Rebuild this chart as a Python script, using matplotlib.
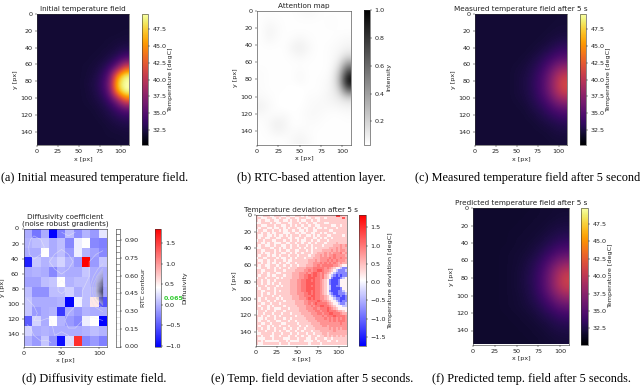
import numpy as np
import matplotlib
matplotlib.use('Agg')
import matplotlib.pyplot as plt

W, H = 640, 386

# coarse readings, rows top to bottom, columns left to right
initial_temp = [
    [32.0, 32.0, 32.0, 32.0, 32.0, 32.0, 32.0, 32.0, 32.0, 32.0, 32.0, 32.0],
    [32.0, 32.0, 32.0, 32.0, 32.0, 32.0, 32.0, 32.0, 32.0, 32.0, 32.0, 32.0],
    [32.0, 32.0, 32.0, 32.0, 32.0, 32.0, 32.0, 32.0, 32.0, 32.0, 32.0, 32.1],
    [32.0, 32.0, 32.0, 32.0, 32.0, 32.0, 32.0, 32.0, 32.0, 32.1, 32.2, 32.3],
    [32.0, 32.0, 32.0, 32.0, 32.0, 32.0, 32.0, 32.0, 32.1, 32.2, 32.5, 33.0],
    [32.0, 32.0, 32.0, 32.0, 32.0, 32.0, 32.0, 32.1, 32.2, 32.7, 33.5, 35.2],
    [32.0, 32.0, 32.0, 32.0, 32.0, 32.0, 32.1, 32.2, 32.7, 33.8, 36.5, 42.0],
    [32.0, 32.0, 32.0, 32.0, 32.0, 32.0, 32.1, 32.4, 33.3, 35.6, 45.0, 49.5],
    [32.0, 32.0, 32.0, 32.0, 32.0, 32.0, 32.2, 32.6, 33.6, 36.8, 48.0, 50.0],
    [32.0, 32.0, 32.0, 32.0, 32.0, 32.0, 32.1, 32.5, 33.4, 36.0, 46.0, 50.0],
    [32.0, 32.0, 32.0, 32.0, 32.0, 32.0, 32.1, 32.3, 32.8, 34.2, 37.5, 43.0],
    [32.0, 32.0, 32.0, 32.0, 32.0, 32.0, 32.0, 32.1, 32.4, 33.0, 34.2, 35.8],
    [32.0, 32.0, 32.0, 32.0, 32.0, 32.0, 32.0, 32.0, 32.2, 32.5, 33.0, 33.5],
    [32.0, 32.0, 32.0, 32.0, 32.0, 32.0, 32.0, 32.0, 32.0, 32.2, 32.4, 32.6],
    [32.0, 32.0, 32.0, 32.0, 32.0, 32.0, 32.0, 32.0, 32.0, 32.1, 32.1, 32.2],
    [32.0, 32.0, 32.0, 32.0, 32.0, 32.0, 32.0, 32.0, 32.0, 32.0, 32.0, 32.1],
]

measured_temp = [
    [32.0, 32.0, 32.0, 32.0, 32.0, 32.0, 32.0, 32.0, 32.0, 32.0, 32.0, 32.1],
    [32.0, 32.0, 32.0, 32.0, 32.0, 32.0, 32.0, 32.0, 32.0, 32.0, 32.1, 32.1],
    [32.0, 32.0, 32.0, 32.0, 32.0, 32.0, 32.0, 32.0, 32.0, 32.1, 32.2, 32.3],
    [32.0, 32.0, 32.0, 32.0, 32.0, 32.0, 32.0, 32.0, 32.1, 32.3, 32.6, 32.9],
    [32.0, 32.0, 32.0, 32.0, 32.0, 32.0, 32.0, 32.1, 32.4, 32.8, 33.4, 33.9],
    [32.0, 32.0, 32.0, 32.0, 32.0, 32.0, 32.1, 32.4, 32.9, 33.7, 34.7, 35.4],
    [32.0, 32.0, 32.0, 32.0, 32.0, 32.1, 32.3, 32.7, 33.5, 34.8, 36.7, 38.0],
    [32.0, 32.0, 32.0, 32.0, 32.0, 32.2, 32.4, 33.0, 34.0, 35.8, 38.5, 40.4],
    [32.0, 32.0, 32.0, 32.0, 32.0, 32.2, 32.5, 33.1, 34.2, 36.1, 39.2, 41.5],
    [32.0, 32.0, 32.0, 32.0, 32.0, 32.2, 32.4, 33.0, 34.1, 35.9, 38.7, 40.8],
    [32.0, 32.0, 32.0, 32.0, 32.0, 32.1, 32.3, 32.8, 33.6, 34.9, 36.9, 38.3],
    [32.0, 32.0, 32.0, 32.0, 32.0, 32.0, 32.1, 32.5, 33.0, 33.8, 34.9, 35.6],
    [32.0, 32.0, 32.0, 32.0, 32.0, 32.0, 32.0, 32.2, 32.5, 33.0, 33.5, 34.0],
    [32.0, 32.0, 32.0, 32.0, 32.0, 32.0, 32.0, 32.0, 32.2, 32.4, 32.7, 32.9],
    [32.0, 32.0, 32.0, 32.0, 32.0, 32.0, 32.0, 32.0, 32.0, 32.1, 32.3, 32.4],
    [32.0, 32.0, 32.0, 32.0, 32.0, 32.0, 32.0, 32.0, 32.0, 32.0, 32.1, 32.1],
]

predicted_temp = [
    [31.8, 31.8, 31.8, 31.8, 31.8, 31.8, 31.8, 31.8, 31.9, 31.9, 32.0, 32.0],
    [31.8, 31.8, 31.8, 31.8, 31.8, 31.8, 31.8, 31.9, 31.9, 32.0, 32.1, 32.2],
    [31.8, 31.8, 31.8, 31.8, 31.8, 31.8, 31.9, 31.9, 32.0, 32.2, 32.4, 32.5],
    [31.8, 31.8, 31.8, 31.8, 31.8, 31.9, 31.9, 32.0, 32.2, 32.5, 32.8, 33.1],
    [31.8, 31.8, 31.8, 31.8, 31.8, 31.9, 32.0, 32.2, 32.5, 33.0, 33.6, 34.0],
    [31.8, 31.8, 31.8, 31.8, 31.9, 32.0, 32.1, 32.4, 33.0, 33.8, 34.9, 35.5],
    [31.8, 31.8, 31.8, 31.8, 31.9, 32.0, 32.3, 32.8, 33.6, 35.0, 36.7, 37.8],
    [31.8, 31.8, 31.8, 31.8, 31.9, 32.1, 32.4, 33.0, 34.1, 36.0, 38.4, 40.0],
    [31.8, 31.8, 31.8, 31.8, 31.9, 32.1, 32.5, 33.1, 34.3, 36.3, 39.0, 41.0],
    [31.8, 31.8, 31.8, 31.8, 31.9, 32.1, 32.4, 33.0, 34.2, 36.1, 38.6, 40.3],
    [31.8, 31.8, 31.8, 31.8, 31.9, 32.0, 32.3, 32.8, 33.7, 35.1, 36.9, 38.1],
    [31.8, 31.8, 31.8, 31.8, 31.9, 32.0, 32.2, 32.5, 33.1, 34.0, 35.2, 35.9],
    [31.8, 31.8, 31.8, 31.8, 31.8, 31.9, 32.0, 32.2, 32.6, 33.1, 33.7, 34.2],
    [31.8, 31.8, 31.8, 31.8, 31.8, 31.8, 31.9, 32.0, 32.2, 32.5, 32.9, 33.1],
    [31.8, 31.8, 31.8, 31.8, 31.8, 31.8, 31.8, 31.9, 32.0, 32.2, 32.4, 32.5],
    [31.8, 31.8, 31.8, 31.8, 31.8, 31.8, 31.8, 31.8, 31.9, 32.0, 32.1, 32.2],
]

attention = [
    [.04, .04, .04, .04, .04, .05, .06, .05, .04, .04, .04, .04],
    [.04, .06, .05, .04, .04, .04, .04, .04, .04, .05, .04, .04],
    [.04, .08, .06, .04, .04, .04, .04, .04, .04, .04, .04, .04],
    [.04, .07, .05, .04, .05, .07, .05, .04, .04, .04, .05, .06],
    [.04, .04, .04, .04, .08, .10, .07, .04, .04, .05, .06, .08],
    [.04, .04, .04, .04, .05, .07, .05, .04, .04, .05, .08, .16],
    [.04, .04, .04, .04, .04, .04, .04, .04, .04, .05, .13, .45],
    [.05, .04, .04, .04, .04, .06, .04, .04, .04, .06, .22, .80],
    [.05, .04, .04, .04, .04, .06, .04, .04, .05, .07, .26, 1.0],
    [.05, .04, .04, .04, .03, .03, .04, .04, .05, .08, .18, .65],
    [.06, .05, .04, .03, .03, .03, .05, .05, .06, .08, .11, .18],
    [.09, .06, .04, .03, .03, .04, .05, .06, .06, .06, .07, .08],
    [.06, .05, .05, .06, .04, .04, .06, .06, .05, .04, .04, .05],
    [.04, .06, .10, .08, .04, .04, .05, .05, .04, .04, .04, .04],
    [.04, .05, .08, .07, .05, .06, .05, .04, .04, .04, .04, .04],
    [.04, .04, .04, .04, .06, .08, .06, .04, .04, .04, .04, .04],
]

diffusivity = [
    [-0.05, -0.35, -0.05, -1.00, -0.30, 0.05, -0.20, 0.00, -0.15, 0.28],
    [0.00, 0.05, 0.10, -0.05, 0.05, -0.25, 0.32, 0.42, -0.25, -0.30],
    [-0.05, -0.05, 0.42, -0.05, 0.05, -0.15, 0.32, 0.00, -0.10, -0.25],
    [-0.85, 0.10, 0.00, 0.05, 0.18, 0.00, -0.15, 1.85, -0.15, 0.10],
    [-0.05, 0.00, -0.05, -0.25, 0.00, -0.05, -0.05, 0.10, -0.05, -0.05],
    [-0.10, -0.10, 0.05, 0.10, 0.42, 0.00, 0.05, 0.05, -0.05, -0.05],
    [0.05, -0.20, -0.20, 0.05, 0.05, 0.15, -0.05, 0.05, 0.00, -0.10],
    [0.10, -0.05, -0.05, -0.05, 0.00, -1.00, 0.35, 0.05, 0.55, -0.55],
    [0.10, -0.15, -0.05, 0.00, -0.70, -0.05, -0.15, 0.00, -0.05, -0.05],
    [-0.50, 0.18, -0.05, 0.42, 0.00, -0.15, -0.25, 0.32, 0.42, -1.00],
    [0.18, -0.05, 0.00, -0.05, -0.05, -0.05, -0.05, 0.00, 0.05, 0.00],
    [0.00, -0.15, 0.10, -0.20, -0.95, 0.22, 1.60, -0.25, -0.15, -0.30],
]

# deviation map read cell by cell: digit = 0.2 degC steps, a/b/c are the blue core
deviation_rows = [
    "2112221122 2112211222 1212222222 2222277322",
    "2211122112 1221122112 2211221122 1222222262",
    "2122112211 2211212212 1122122122 2222222222",
    "1122221221 1222112221 2212211222 1122222222",
    "2211122212 2112212122 1221221122 2221122122",
    "2122211211 2212122211 2112212112 1222212222",
    "1221122122 1211221221 1212211222 2211222222",
    "2212212112 2211122112 1122112212 1222122222",
    "2112211212 1121212221 2211212122 2112222212",
    "2122112221 1222112112 2122211212 1221222222",
    "1221222112 2212212212 1122122122 2122222222",
    "2211212211 1221122122 1221221222 1222232222",
    "2122112212 2112212212 2212122221 2222333434",
    "1122221122 1212212221 2122121222 2233343433",
    "2211222212 1221122112 2212122223 3334343443",
    "2212112212 2112212122 1222122333 4343444534",
    "2122212112 1222122212 2221223343 4344544443",
    "1221122221 2112212122 2122233344 4454544544",
    "2112212212 2212112222 2223334344 4545454443",
    "2212212112 1221122122 2223344454 5454543433",
    "2122112221 2212212212 2233344545 5555443211",
    "1122212212 1222122233 3344455555 4543211abb",
    "2211222212 2212222333 3445455665 44321abbba",
    "2212212221 1222223334 4454566545 4321abbbbb",
    "2122212112 2212223334 4556566545 321abcbcbb",
    "1222122221 2122223334 4556665545 321bcccba1",
    "2212212212 2222233344 5566565543 21bcccb111",
    "2212212122 1222233344 5566665543 21bcccb111",
    "1222122221 2122233344 5566565543 21accbb111",
    "2122212212 2222233344 5566665543 21accccb11",
    "2211222212 1222233344 5566565543 21bcccbba1",
    "2212212212 2222233344 4556565543 21abccbbba",
    "2212222122 1222223334 4555665544 321abccbcb",
    "2122122221 2122223334 4456565544 3211abbccb",
    "2122212212 2212222333 3445555654 43211abcbb",
    "2211221222 1222222333 3445456555 543211abba",
    "2122212122 2212222233 3344545566 55432111aa",
    "2212212211 1222122223 3344455455 5654321111",
    "1222122212 2212222223 3334445545 5655543321",
    "1221222122 2122212222 3333444554 5566555433",
    "2212212212 1222222122 2333344445 4555655554",
    "2112122212 2212212222 2233334444 5454545454",
    "2122212221 1222122122 2223333444 4454545554",
    "2211221222 2112222212 2222333344 4444444544",
    "2122212122 1222122221 2212233334 4344444444",
    "2212212212 2212212212 2122223333 3343434344",
    "1222122212 1221122122 1222122233 3333433333",
    "1122222122 2122212212 2212212223 3233333333",
    "2212221122 1222122122 1221222122 3232323232",
    "2111222122 2211122212 2211221222 1221222222",
    "2212111111 2221211112 2111122122 2112212222",
    "2112222222 1222122222 2221222212 2222222222",
]
deviation_codes = {'a': -0.35, 'b': -0.8, 'c': -1.2, '1': 0.12}

temp_ticks = [32.5, 35.0, 37.5, 40.0, 42.5, 45.0, 47.5]
attention_ticks = [0.2, 0.4, 0.6, 0.8, 1.0]
deviation_ticks = [-1.5, -1.0, -0.5, 0.0, 0.5, 1.0, 1.5]
rtc_ticks = [0.00, 0.15, 0.30, 0.45, 0.60, 0.75, 0.90]
diff_ticks = [-1.0, -0.5, 0.0, 0.5, 1.0, 1.5]

TICK = 4.6
TITLE = 5.2

plt.rcParams.update({
    'font.size': TICK,
    'axes.linewidth': 0.4,
    'axes.edgecolor': '#333333',
    'xtick.major.size': 1.6,
    'ytick.major.size': 1.6,
    'xtick.major.width': 0.35,
    'ytick.major.width': 0.35,
    'xtick.major.pad': 1.6,
    'ytick.major.pad': 1.6,
    'xtick.labelsize': TICK,
    'ytick.labelsize': TICK,
    'axes.labelsize': TICK,
    'axes.labelpad': 1.5,
    'xtick.color': '#222222',
    'ytick.color': '#222222',
    'text.color': '#222222',
    'axes.labelcolor': '#222222',
})

fig = plt.figure(figsize=(W / 100, H / 100), dpi=100)


def px_axes(x0, x1, y0, y1):
    return fig.add_axes([x0 / W, 1 - y1 / H, (x1 - x0) / W, (y1 - y0) / H])


def finish_axes(ax, title, xticks, yticks):
    ax.set_xticks(xticks)
    ax.set_yticks(yticks)
    ax.set_xlabel('x [px]')
    ax.set_ylabel('y [px]')
    ax.set_title(title, fontsize=TITLE, pad=2)


def add_bar(mappable, box, ticks, label, pad=1.5):
    cax = px_axes(*box)
    cb = fig.colorbar(mappable, cax=cax, ticks=ticks)
    cb.set_label(label, fontsize=TICK, labelpad=pad)
    cb.outline.set_linewidth(0.4)
    return cb


def field_panel(data, box, cbox, title, cmap, vmin, vmax, ticks, label,
                interp='bicubic', xticks=(0, 25, 50, 75, 100)):
    ax = px_axes(*box)
    im = ax.imshow(data, cmap=cmap, vmin=vmin, vmax=vmax, extent=[0, 110, 156, 0],
                   aspect='auto', interpolation=interp)
    finish_axes(ax, title, list(xticks), [0, 20, 40, 60, 80, 100, 120, 140])
    add_bar(im, cbox, ticks, label)
    return ax


field_panel(initial_temp, (37, 129, 14, 145), (141.5, 148, 14, 145),
            'Initial temperature field', 'inferno', 30.2, 49.8, temp_ticks,
            'Temperature [degC]')
field_panel(attention, (257, 351, 11, 144.5), (363.5, 370, 10, 144.5),
            'Attention map', 'gray_r', 0.034, 1.0, attention_ticks, 'Intensity')
field_panel(measured_temp, (475, 567, 14, 145), (579.5, 586, 14, 145),
            'Measured temperature field after 5 s', 'inferno', 30.2, 49.8, temp_ticks,
            'Temperature [degC]')

# panel d, blocks with the attention contours on top
ax_d = px_axes(23.5, 106.5, 228.5, 346.5)
im_d = ax_d.imshow(diffusivity, cmap='bwr', vmin=-1.02, vmax=1.86, extent=[0, 110, 157, 0],
                   aspect='auto', interpolation='nearest')
xc = (np.arange(12) + 0.5) * 110 / 12
yc = (np.arange(16) + 0.5) * 157 / 16
cs = ax_d.contour(xc, yc, np.array(attention), levels=np.arange(0.05, 1.0, 0.05),
                  cmap='gray_r', vmin=0, vmax=1, linewidths=0.5, alpha=0.5)
finish_axes(ax_d, 'Diffusivity coefficient\n(noise robust gradients)', [0, 50, 100],
            [0, 20, 40, 60, 80, 100, 120, 140])
ax_d.title.set_linespacing(1.15)

cax_rtc = px_axes(116, 120.5, 228.5, 346.5)
cax_rtc.set_ylim(0, 1.0)
cax_rtc.set_xlim(0, 1)
cax_rtc.set_xticks([])
for lev in np.arange(0.05, 1.0, 0.05):
    cax_rtc.axhline(lev, color=plt.cm.gray_r(lev), lw=0.5, alpha=0.7)
cax_rtc.yaxis.tick_right()
cax_rtc.yaxis.set_label_position('right')
cax_rtc.set_yticks(rtc_ticks)
cax_rtc.set_yticklabels(['%.2f' % t for t in rtc_ticks])
cax_rtc.set_ylabel('RTC contour', labelpad=1.5)

cb_d = add_bar(im_d, (155, 160.5, 228.5, 346.5), diff_ticks, 'Diffusivity', pad=1.5)
fig.text(164 / W, 1 - 298.5 / H, '0.065', color='#33cc33', fontsize=TICK, fontweight='bold',
         va='center')

# panel e
deviation = []
for row in deviation_rows:
    row = row.replace(' ', '')
    deviation.append([deviation_codes[c] if c in deviation_codes else int(c) * 0.2 for c in row])
field_panel(deviation, (256, 347, 215, 345.5), (359, 366, 215, 345.5),
            'Temperature deviation after 5 s', 'bwr', -1.74, 1.84, deviation_ticks,
            'Temperature deviation [degC]', interp='nearest')

field_panel(predicted_temp, (473, 569, 208, 344.5), (581, 588, 208, 344.5),
            'Predicted temperature field after 5 s', 'inferno', 30.2, 49.8, temp_ticks,
            'Temperature [degC]')

captions = [
    (1, 178.5, '(a) Initial measured temperature field.'),
    (237, 178.5, '(b) RTC-based attention layer.'),
    (415, 178.5, '(c) Measured temperature field after 5 seconds.'),
    (22, 379, '(d) Diffusivity estimate field.'),
    (211, 379, '(e) Temp. field deviation after 5 seconds.'),
    (432, 379, '(f) Predicted temp. field after 5 seconds.'),
]
for cx, cy, txt in captions:
    fig.text(cx / W, 1 - cy / H, txt, family='Liberation Serif', fontsize=8.85, color='black',
             va='center', ha='left')

fig.savefig('out.png', dpi=100)
